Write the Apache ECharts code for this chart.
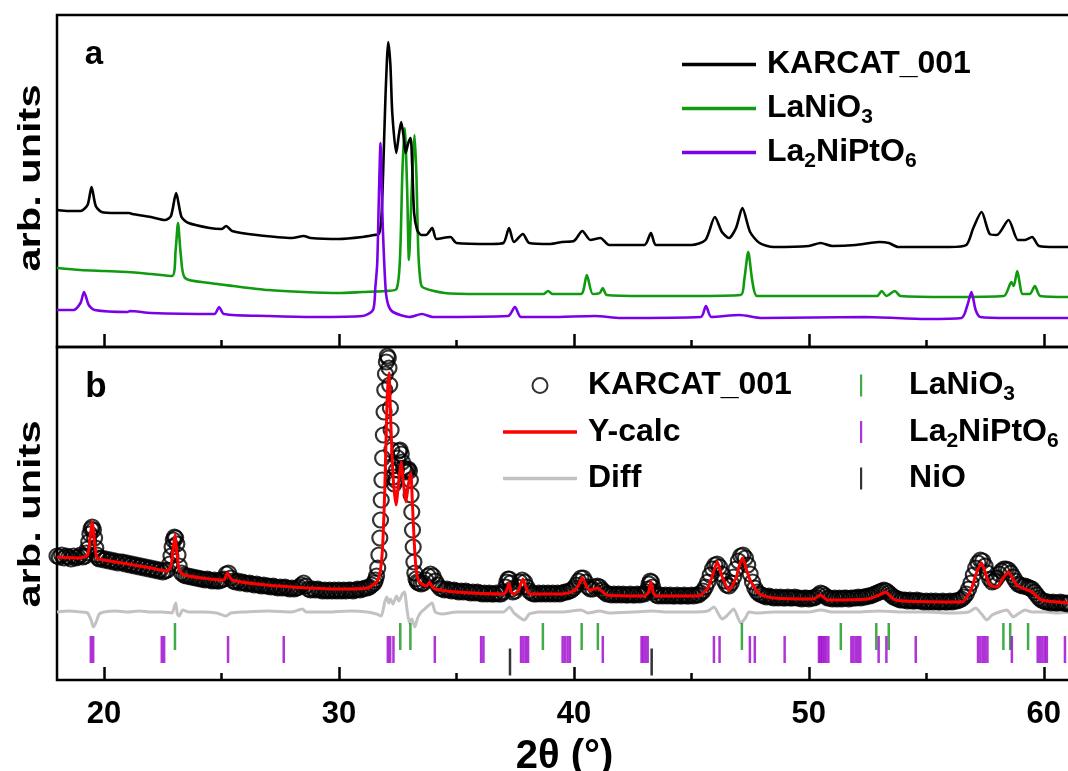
<!DOCTYPE html>
<html>
<head>
<meta charset="utf-8">
<script src="https://cdn.jsdelivr.net/npm/echarts@6/dist/echarts.min.js"></script>
<style>html,body{margin:0;padding:0;background:#fff}#chart{width:1068px;height:771px}</style>
</head>
<body>
<div id="chart"></div>
<script>
// ---------- data ----------
const majorTicks = [20, 30, 40, 50, 60];
const minorTicks = [25, 35, 45, 55];

// panel a : measured patterns (2theta, arb. intensity)
const karcatA = [[18.0,137],[18.5,136],[19.0,136],[19.3,142],[19.47,160],[19.65,141],[19.9,135],[20.5,134],[21.06,134],[21.2,133],[22.0,130],[22.6,127],[22.85,131],[23.07,154],[23.3,130],[23.6,124],[24.5,119],[25.0,118],[25.2,121],[25.45,116],[26.5,112],[28.0,109],[28.5,111],[28.8,109],[30.0,108],[31.0,110],[31.5,112],[31.7,113],[31.8,127],[31.88,174],[31.98,250],[32.1,305],[32.19,282],[32.27,234],[32.44,194],[32.55,212],[32.65,225],[32.75,211],[32.84,194],[32.95,204],[33.05,209],[33.12,180],[33.2,134],[33.33,117],[33.5,112],[33.7,112],[33.97,119],[34.15,108],[34.75,110],[35.0,104],[36.5,103],[37.0,104],[37.24,119],[37.45,105],[37.83,113],[38.1,104],[39.0,103],[39.5,105],[40.0,106],[40.36,116],[40.7,107],[41.13,109],[41.5,102],[43.0,102],[43.28,114],[43.5,102],[45.0,102],[45.6,107],[46.0,130],[46.3,115],[46.6,109],[46.9,119],[47.17,139],[47.5,115],[47.9,104],[48.5,100],[50.0,101],[50.5,104],[51.0,101],[52.0,102],[52.6,104],[53.0,105],[53.4,104],[53.8,100],[56.0,100],[56.7,102],[57.0,119],[57.35,135],[57.7,113],[58.0,112],[58.5,127],[58.9,107],[59.2,107],[59.5,110],[59.8,101],[60.5,100],[61.2,100]];
const laniO3A = [[18.0,79],[19.0,77],[20.0,76],[21.0,75],[22.0,73],[22.9,71],[23.05,97],[23.15,124],[23.27,92],[23.45,69],[24.5,64],[25.5,61],[27.0,57],[28.5,55],[30.0,54],[31.0,55],[32.0,56],[32.45,58],[32.6,90],[32.7,175],[32.8,219],[32.9,160],[32.98,87],[33.1,160],[33.22,212],[33.3,170],[33.37,100],[33.45,70],[33.55,60],[34.5,54],[36.0,53],[38.7,53],[38.9,56],[39.1,53],[40.3,53],[40.55,72],[40.8,53],[41.1,54],[41.23,59],[41.4,52],[43.0,51],[45.0,51],[47.1,52],[47.25,67],[47.42,95],[47.6,65],[47.8,51],[50.0,51],[52.9,51],[53.1,56],[53.3,51],[53.66,56],[53.9,51],[56.0,50],[58.3,51],[58.62,65],[58.72,61],[58.87,76],[59.1,53],[59.4,53],[59.62,61],[59.85,51],[61.2,50]];
const la2niptO6A = [[18.0,37],[18.7,37],[19.0,44],[19.15,55],[19.35,42],[19.6,37],[21.0,35],[21.1,36],[22.0,34],[24.7,33],[24.9,40],[25.1,33],[27.0,31],[29.0,30],[31.0,31],[31.45,37],[31.55,60],[31.63,84],[31.7,150],[31.77,204],[31.82,160],[31.87,117],[31.99,57],[32.1,42],[32.3,35],[33.0,30],[33.53,33],[34.0,30],[37.2,31],[37.49,40],[37.75,30],[39.0,30],[40.9,31],[42.0,29],[45.4,30],[45.62,41],[45.85,30],[47.05,32],[48.0,29],[52.4,30],[55.0,28],[56.5,29],[56.75,42],[56.92,55],[57.1,37],[57.3,30],[58.5,29],[60.0,29],[61.2,29]];

// panel b : refinement
const obsB = [[18.0,124],[18.1,123],[18.2,125],[18.3,122],[18.4,124],[18.5,123],[18.6,121],[18.7,124],[18.8,122],[18.9,123],[19.0,125],[19.1,123],[19.2,124],
[19.25,127],[19.3,131],[19.35,138],[19.4,146],[19.45,151],[19.5,153],[19.55,150],[19.6,142],[19.65,132],[19.7,125],[19.75,122],
[19.8,121],[19.9,122],[20.0,120],[20.1,121],[20.2,119],[20.3,120],[20.4,118],[20.5,119],[20.6,117],[20.7,118],[20.8,118],[20.9,116],[21.0,117],[21.1,115],[21.2,116],[21.3,114],[21.4,115],[21.5,113],[21.6,114],[21.7,112],[21.8,113],[21.9,111],[22.0,112],[22.1,110],[22.2,111],[22.3,109],[22.4,110],[22.5,108],[22.6,109],
[22.7,110],[22.8,116],[22.85,124],[22.9,133],[22.95,140],[23.0,143],[23.05,142],[23.1,136],[23.15,125],[23.2,114],[23.3,107],
[23.4,105],[23.5,104],[23.6,104],[23.7,103],[23.8,103],[23.9,102],[24.0,102],[24.1,101],[24.2,101],[24.3,100],[24.4,101],[24.5,100],[24.6,99],[24.7,100],[24.8,99],[24.9,99],[25.0,100],
[25.1,101],[25.2,106],[25.3,107],[25.4,102],
[25.5,99],[25.6,98],[25.7,99],[25.8,97],[25.9,98],[26.0,97],[26.1,96],[26.2,97],[26.3,96],[26.4,95],[26.5,96],[26.6,95],[26.7,94],[26.8,95],[26.9,94],[27.0,94],[27.1,93],[27.2,94],[27.3,93],[27.4,92],[27.5,93],[27.6,92],[27.7,93],[27.8,92],[27.9,91],[28.0,92],[28.1,91],[28.2,92],[28.3,93],[28.4,95],[28.5,97],[28.6,94],[28.7,91],[28.8,90],[28.9,91],[29.0,90],[29.1,91],[29.2,90],[29.3,89],[29.4,90],[29.5,89],[29.6,90],[29.7,89],[29.8,90],[29.9,89],[30.0,90],[30.1,89],[30.2,90],[30.3,89],[30.4,90],[30.5,90],[30.6,89],[30.7,90],[30.8,91],[30.9,90],[31.0,91],[31.1,92],[31.2,92],[31.3,93],[31.4,95],[31.5,97],
[31.55,100],[31.6,104],[31.65,112],[31.7,125],[31.74,142],[31.77,160],[31.8,180],[31.83,200],[31.86,222],[31.89,245],[31.92,268],[31.95,290],[31.98,306],[32.02,318],[32.06,324],[32.1,322],[32.13,312],[32.16,295],[32.19,272],[32.22,250],[32.25,230],[32.28,214],[32.31,203],[32.35,196],[32.4,200],[32.45,210],[32.5,222],[32.55,229],[32.6,230],[32.65,226],[32.7,218],[32.75,212],[32.8,209],[32.85,208],[32.9,210],[32.95,211],[33.0,209],[33.04,200],[33.07,185],[33.1,168],[33.13,150],[33.16,133],[33.19,118],[33.23,107],[33.28,101],[33.33,98],
[33.4,97],[33.5,96],[33.6,97],[33.7,100],[33.8,104],[33.9,106],[34.0,104],[34.1,99],[34.2,95],[34.3,92],[34.4,91],[34.5,90],[34.6,91],[34.7,90],[34.8,89],[34.9,90],[35.0,89],[35.1,88],[35.2,89],[35.3,88],[35.4,89],[35.5,88],[35.6,87],[35.7,88],[35.8,87],[35.9,88],[36.0,87],[36.1,86],[36.2,87],[36.3,86],[36.4,87],[36.5,86],[36.6,86],[36.7,87],[36.8,86],[36.9,86],[37.0,88],
[37.1,93],[37.15,98],[37.2,101],[37.25,101],[37.3,97],[37.35,91],[37.4,88],[37.5,89],[37.6,93],[37.7,98],[37.8,100],[37.9,98],[38.0,93],[38.1,89],[38.2,87],[38.3,86],[38.4,86],[38.5,87],[38.6,86],[38.7,87],[38.8,86],[38.9,87],[39.0,86],[39.1,87],[39.2,86],[39.3,87],[39.4,86],[39.5,87],[39.6,88],[39.7,88],[39.8,89],[39.9,90],[40.0,92],
[40.1,95],[40.2,99],[40.3,102],[40.4,102],[40.5,98],[40.6,93],[40.7,91],[40.8,91],[40.9,93],[41.0,94],[41.1,93],[41.2,90],[41.3,88],[41.4,86],[41.5,86],[41.6,85],[41.7,86],[41.8,85],[41.9,86],[42.0,85],[42.1,86],[42.2,85],[42.3,85],[42.4,86],[42.5,85],[42.6,85],[42.7,86],[42.8,85],[42.9,86],[43.0,86],[43.1,88],
[43.15,91],[43.2,96],[43.25,99],[43.3,98],[43.35,93],[43.4,88],[43.5,85],[43.6,84],[43.7,85],[43.8,84],[43.9,85],[44.0,84],[44.1,85],[44.2,84],[44.3,84],[44.4,85],[44.5,84],[44.6,84],[44.7,85],[44.8,84],[44.9,84],[45.0,85],[45.1,84],[45.2,85],[45.3,85],[45.4,87],[45.5,89],
[45.6,93],[45.7,98],[45.8,105],[45.9,111],[46.0,115],[46.1,116],[46.2,113],[46.3,106],[46.4,99],[46.5,95],[46.6,94],[46.7,97],[46.8,103],[46.9,111],[47.0,119],[47.1,124],[47.2,125],[47.3,122],[47.4,115],[47.5,106],[47.6,98],[47.7,92],[47.8,88],[47.9,86],[48.0,85],
[48.1,84],[48.2,83],[48.3,84],[48.4,83],[48.5,82],[48.6,83],[48.7,82],[48.8,83],[48.9,82],[49.0,82],[49.1,83],[49.2,82],[49.3,82],[49.4,83],[49.5,82],[49.6,82],[49.7,81],[49.8,82],[49.9,82],[50.0,81],[50.1,82],[50.2,82],[50.3,83],[50.4,85],[50.5,87],[50.6,86],[50.7,84],[50.8,82],[50.9,82],[51.0,81],[51.1,82],[51.2,81],[51.3,82],[51.4,81],[51.5,82],[51.6,82],[51.7,81],[51.8,82],[51.9,82],[52.0,82],[52.1,83],[52.2,82],[52.3,83],[52.4,83],[52.5,84],[52.6,84],[52.7,85],[52.8,86],[52.9,87],[53.0,88],[53.1,89],[53.2,90],[53.3,89],[53.4,87],[53.5,85],[53.6,83],[53.7,82],[53.8,81],[53.9,80],[54.0,80],
[54.1,80],[54.2,79],[54.3,80],[54.4,79],[54.5,79],[54.6,80],[54.7,79],[54.8,79],[54.9,78],[55.0,79],[55.1,78],[55.2,79],[55.3,78],[55.4,79],[55.5,78],[55.6,78],[55.7,79],[55.8,78],[55.9,78],[56.0,79],[56.1,78],[56.2,79],[56.3,79],[56.4,80],[56.5,81],
[56.6,83],[56.7,86],[56.8,91],[56.9,97],[57.0,105],[57.1,112],[57.2,117],[57.3,120],[57.4,119],[57.5,114],[57.6,107],[57.7,101],[57.8,98],[57.9,99],[58.0,102],[58.1,106],[58.2,109],[58.3,111],[58.4,111],[58.5,110],[58.6,107],[58.7,103],[58.8,99],[58.9,96],[59.0,95],[59.1,94],[59.2,94],[59.3,93],[59.4,92],[59.5,91],[59.6,88],[59.7,85],[59.8,82],[59.9,80],[60.0,79],[60.1,78],[60.2,78],[60.3,77],[60.4,78],[60.5,77],[60.6,77],[60.7,78],[60.8,77],[60.9,77],[61.0,76],[61.1,77]];

const calcB = [[18.0,123],[19.0,122],[19.3,125],[19.4,140],[19.5,158],[19.6,138],[19.7,122],[20.0,120],[21.0,116],[22.0,112],[22.7,109],[22.85,114],[22.95,132],[23.02,145],[23.1,128],[23.2,110],[23.4,105],[24.5,101],[25.1,100],[25.25,107],[25.45,100],[26.5,96],[28.0,93],[30.0,91],[31.2,92],[31.6,98],[31.75,108],[31.85,130],[31.95,190],[32.05,280],[32.13,307],[32.2,262],[32.3,205],[32.43,175],[32.55,200],[32.64,218],[32.75,195],[32.85,178],[32.95,195],[33.06,207],[33.12,180],[33.2,140],[33.28,112],[33.4,99],[33.6,95],[33.75,94],[33.85,98],[33.95,94],[34.1,91],[35.0,88],[37.0,86],[37.15,90],[37.24,97],[37.33,88],[37.45,86],[37.65,90],[37.83,101],[38.0,90],[38.15,86],[39.5,86],[40.0,89],[40.2,95],[40.36,102],[40.55,93],[40.7,90],[41.0,92],[41.4,85],[43.0,84],[43.18,88],[43.28,98],[43.38,87],[43.5,84],[45.3,84],[45.7,92],[45.9,105],[46.1,118],[46.3,104],[46.6,90],[46.9,102],[47.05,115],[47.18,122],[47.35,110],[47.5,100],[47.9,86],[48.5,82],[50.2,81],[50.5,85],[50.8,80],[52.5,81],[53.0,85],[53.26,88],[53.6,81],[54.0,79],[56.5,78],[56.9,90],[57.1,105],[57.35,117],[57.5,108],[57.7,95],[58.0,93],[58.3,103],[58.5,108],[58.7,100],[58.9,94],[59.5,88],[59.9,80],[61.2,77]];

const diffB = [[18.0,68],[18.5,69],[19.0,68],[19.3,67],[19.45,60],[19.55,53],[19.65,57],[19.8,66],[20.0,68],[20.5,69],[21.0,68],[21.5,69],[22.0,68],[22.5,68],[22.9,67],[23.0,74],[23.06,77],[23.12,66],[23.2,64],[23.35,70],[23.6,68],[24.2,68],[24.8,67],[25.2,64],[25.4,67],[26.0,68],[27.0,69],[28.0,68],[28.45,71],[28.6,68],[29.5,68],[30.5,69],[31.2,68],[31.6,66],[31.8,64],[31.95,78],[32.04,83],[32.12,77],[32.2,81],[32.3,76],[32.45,84],[32.55,79],[32.7,86],[32.79,88],[32.9,70],[33.0,57],[33.1,61],[33.23,53],[33.35,62],[33.5,68],[33.7,72],[33.96,77],[34.1,68],[34.4,66],[35.0,68],[36.0,68],[37.0,68],[37.26,73],[37.45,67],[37.9,60],[38.1,66],[38.5,68],[39.5,68],[40.3,70],[40.6,67],[41.1,69],[41.5,67],[42.5,68],[43.3,69],[44.0,68],[45.0,68],[45.7,69],[45.96,73],[46.3,61],[46.5,64],[46.8,71],[47.1,57],[47.3,62],[47.45,68],[47.8,67],[48.5,68],[50.0,68],[50.5,70],[51.0,68],[52.0,68],[53.0,69],[54.0,68],[55.0,68],[56.0,67],[56.8,68],[57.1,72],[57.35,66],[57.57,60],[57.8,65],[58.1,68],[58.43,70],[58.7,63],[58.9,66],[59.2,70],[59.5,68],[60.0,68],[60.6,67],[61.2,68]];

// reflection positions (2theta)
const refLaNiO3 = [23.02, 32.61, 33.04, 38.68, 40.33, 41.02, 47.15, 51.36, 52.87, 53.40, 58.28, 58.57, 59.33];
const refLa2NiPtO6 = [19.44, 19.54, 22.46, 22.56, 25.28, 27.65, 32.08, 32.18, 32.32, 34.08, 36.05, 36.15, 37.75, 37.85, 37.95, 38.05, 39.52, 39.62, 39.73, 39.83, 41.23, 42.88, 42.96, 43.05, 43.14, 45.96, 46.20, 47.49, 47.70, 48.97, 50.43, 50.50, 50.57, 50.65, 50.73, 50.83, 51.81, 51.90, 52.00, 52.10, 52.19, 52.97, 53.30, 54.55, 57.20, 57.30, 57.40, 57.50, 57.60, 58.64, 59.74, 59.84, 59.94, 60.04, 60.13, 60.90];
const refNiO = [37.28, 43.31];

// ---------- layout / style ----------
const FONT = "'Liberation Sans', Arial, Helvetica, sans-serif";
const X_MIN = 18, X_MAX = 61.2;
const ROW_LANIO3 = 43.5, ROW_LA2NIPTO6 = 30.5, ROW_NIO = 18;
const C = {black:'#000000', green:'#109a10', violet:'#7a00ea', red:'#ff0000', gray:'#c2c2c2', tickViolet:'#9b00cc', tickGreen:'#12961a'};

const labelText = {
  aKarcat: '{n|KARCAT_001}{s| }', aLaNiO3: '{n|LaNiO}{s|3}', aLa2NiPtO6: '{n|La}{s|2}{n|NiPtO}{s|6}',
  bObs: '{n|KARCAT_001}{s| }', bCalc: '{n|Y-calc}{s| }', bDiff: '{n|Diff}{s| }',
  bLaNiO3: '{n|LaNiO}{s|3}', bLa2NiPtO6: '{n|La}{s|2}{n|NiPtO}{s|6}', bNiO: '{n|NiO}{s| }'
};
const rich = {
  n: {fontFamily: FONT, fontSize: 32, fontWeight: 'bold', color: '#000', lineHeight: 40},
  s: {fontFamily: FONT, fontSize: 21, fontWeight: 'bold', color: '#000', lineHeight: 40, padding: [18, 0, 0, 0]}
};
const barIcon = 'path://M0,0 L1,0 L1,10 L0,10 Z';
const lineIcon = 'path://M0,0 L74,0 L74,3.3 L0,3.3 Z';

function majorAxis(grid, labels) {
  return {
    type: 'value', gridIndex: grid, min: X_MIN, max: X_MAX, position: 'bottom',
    axisLine: {show: false}, splitLine: {show: false},
    axisTick: {show: true, inside: true, length: 13, customValues: majorTicks, lineStyle: {color: '#000', width: 2.5}},
    axisLabel: {show: labels, customValues: majorTicks, margin: 19, color: '#000', fontSize: 31, fontWeight: 'bold', fontFamily: FONT},
    name: labels ? '2θ (°)' : '', nameLocation: 'middle', nameGap: 57,
    nameTextStyle: {color: '#000', fontSize: 40, fontWeight: 'bold', fontFamily: FONT}
  };
}
function minorAxis(grid) {
  return {
    type: 'value', gridIndex: grid, min: X_MIN, max: X_MAX, position: 'bottom',
    axisLine: {show: false}, splitLine: {show: false},
    axisTick: {show: true, inside: true, length: 7, customValues: minorTicks, lineStyle: {color: '#000', width: 2.5}},
    axisLabel: {show: false, customValues: minorTicks}
  };
}
function lineSeries(name, xi, yi, data, color, width, z, smooth) {
  return {name, type: 'line', xAxisIndex: xi, yAxisIndex: yi, data, symbol: 'none', showSymbol: false,
    smooth: smooth || false, lineStyle: {color, width}, itemStyle: {color}, z, silent: true, animation: false};
}
function refSeries(name, positions, row, color) {
  return {name, type: 'scatter', xAxisIndex: 2, yAxisIndex: 1, data: positions.map(p => [p, row]),
    symbol: 'rect', symbolSize: [2.5, 27], itemStyle: {color}, silent: true, z: 3};
}
const legendBase = {orient: 'vertical', selectedMode: false, itemWidth: 74, padding: 0,
  formatter: name => labelText[name], textStyle: {rich, padding: [0, 0, 0, 6]}};

const option = {
  animation: false,
  backgroundColor: '#fff',
  grid: [
    {left: 57, top: 15, width: 1015, height: 332, show: true, borderColor: '#000', borderWidth: 2.5, backgroundColor: 'rgba(0,0,0,0)', containLabel: false, outerBoundsMode: 'none'},
    {left: 57, top: 347, width: 1015, height: 333, show: true, borderColor: '#000', borderWidth: 2.5, backgroundColor: 'rgba(0,0,0,0)', containLabel: false, outerBoundsMode: 'none'}
  ],
  xAxis: [majorAxis(0, false), minorAxis(0), majorAxis(1, true), minorAxis(1)],
  yAxis: [
    {type: 'value', gridIndex: 0, min: 0, max: 332, show: false},
    {type: 'value', gridIndex: 1, min: 0, max: 333, show: false}
  ],
  legend: [
    Object.assign({}, legendBase, {left: 682, top: 45, itemHeight: 15, itemGap: 5,
      data: [{name: 'aKarcat', icon: lineIcon}, {name: 'aLaNiO3', icon: lineIcon}, {name: 'aLa2NiPtO6', icon: lineIcon}]}),
    Object.assign({}, legendBase, {left: 503, top: 366, itemHeight: 15, itemGap: 7.5,
      data: ['bObs', {name: 'bCalc', icon: lineIcon}, {name: 'bDiff', icon: lineIcon}]}),
    Object.assign({}, legendBase, {left: 860, top: 366, itemHeight: 22, itemGap: 7.5,
      data: [{name: 'bLaNiO3', icon: barIcon, itemStyle: {color: C.tickGreen}},
             {name: 'bLa2NiPtO6', icon: barIcon, itemStyle: {color: C.tickViolet}},
             {name: 'bNiO', icon: barIcon, itemStyle: {color: '#000'}}]})
  ],
  graphic: [
    {type: 'text', x: 94, y: 55, style: {text: 'a', font: 'bold 33px ' + FONT, fill: '#000', align: 'center', verticalAlign: 'middle'}},
    {type: 'text', x: 96, y: 387, style: {text: 'b', font: 'bold 35px ' + FONT, fill: '#000', align: 'center', verticalAlign: 'middle'}},
    {type: 'text', x: 31, y: 178, rotation: Math.PI / 2, scaleX: 1.3, style: {text: 'arb. units', font: 'bold 32px ' + FONT, fill: '#000', align: 'center', verticalAlign: 'middle'}},
    {type: 'text', x: 31, y: 514, rotation: Math.PI / 2, scaleX: 1.3, style: {text: 'arb. units', font: 'bold 32px ' + FONT, fill: '#000', align: 'center', verticalAlign: 'middle'}}
  ],
  series: [
    lineSeries('aKarcat', 0, 0, karcatA, C.black, 2.6, 3, 0.25),
    lineSeries('aLaNiO3', 0, 0, laniO3A, C.green, 2.6, 2, 0.25),
    lineSeries('aLa2NiPtO6', 0, 0, la2niptO6A, C.violet, 2.6, 4, 0.25),
    lineSeries('bDiff', 2, 1, diffB, C.gray, 3, 2, 0.2),
    {name: 'bObs', type: 'scatter', xAxisIndex: 2, yAxisIndex: 1, data: obsB, symbol: 'circle', symbolSize: 15,
      itemStyle: {color: 'rgba(0,0,0,0)', borderColor: '#000', borderWidth: 2.2}, silent: true, z: 3},
    lineSeries('bCalc', 2, 1, calcB, C.red, 3, 5, 0.2),
    refSeries('bLaNiO3', refLaNiO3, ROW_LANIO3, C.tickGreen),
    refSeries('bLa2NiPtO6', refLa2NiPtO6, ROW_LA2NIPTO6, C.tickViolet),
    refSeries('bNiO', refNiO, ROW_NIO, '#000')
  ]
};
const chart = echarts.init(document.getElementById('chart'), null, {renderer: 'canvas'});
chart.setOption(option);
</script>
</body>
</html>
